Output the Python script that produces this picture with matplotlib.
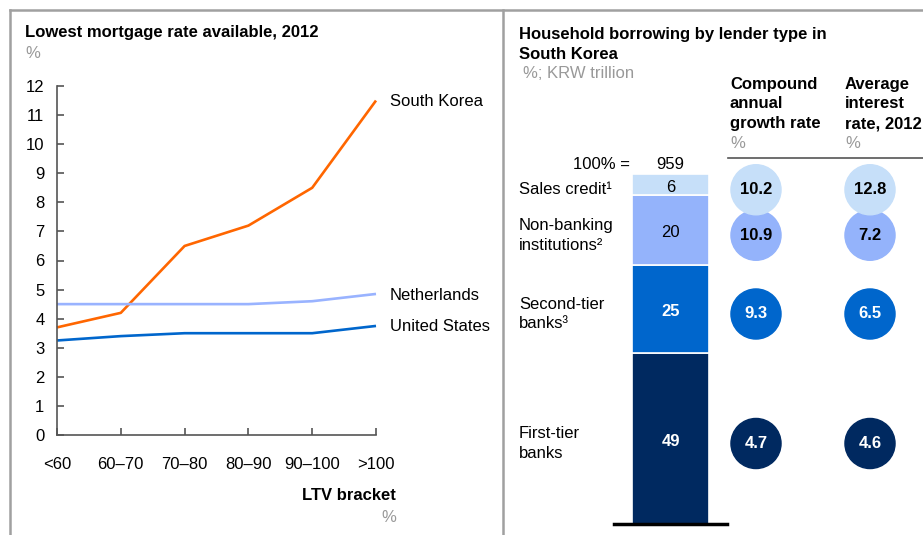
import numpy as np
import matplotlib.pyplot as plt

plt.rcParams['font.family'] = ['Liberation Sans', 'DejaVu Sans']

# left chart: lowest mortgage rate by LTV bracket
ltv_brackets = ['<60', '60–70', '70–80', '80–90', '90–100', '>100']
south_korea = [3.7, 4.2, 6.5, 7.2, 8.5, 11.5]
netherlands = [4.5, 4.5, 4.5, 4.5, 4.6, 4.85]
united_states = [3.25, 3.4, 3.5, 3.5, 3.5, 3.75]

# right chart: household borrowing, bottom to top
lenders = ['First-tier\nbanks', 'Second-tier\nbanks³', 'Non-banking\ninstitutions²', 'Sales credit¹']
shares = [49, 25, 20, 6]
cagr = [4.7, 9.3, 10.9, 10.2]
avg_rate = [4.6, 6.5, 7.2, 12.8]
total = 959

seg_colors = ['#002960', '#0066CC', '#94B3FB', '#C6DFF9']
txt_colors = ['white', 'white', 'black', 'black']
GRAY = '#999999'
FS = 12
LS = 1.4

W, H = 923, 535
fig = plt.figure(figsize=(W / 100, H / 100), dpi=100)


def fx(px):
    return px / W


def fy(py):
    return 1 - py / H


# overlay in pixel coords for frames and free text
bg = fig.add_axes([0, 0, 1, 1])
bg.set_xlim(0, W)
bg.set_ylim(H, 0)
bg.axis('off')
bg.plot([10, W], [10, 10], color='#A0A0A0', lw=1.8)
bg.plot([10, 10], [10, H], color='#A0A0A0', lw=1.8)
bg.plot([503, 503], [10, H], color='#A0A0A0', lw=1.8)

# ---- left panel ----
bg.text(25, 33, 'Lowest mortgage rate available, 2012', fontsize=FS, fontweight='bold', va='center')
bg.text(25, 53, '%', fontsize=FS, color=GRAY, va='center')

ax1 = fig.add_axes([fx(57), fy(435), fx(376) - fx(57), fy(86) - fy(435)])
x = np.arange(len(ltv_brackets))
ax1.plot(x, south_korea, color='#FF6600', lw=1.9, clip_on=False, solid_capstyle='butt')
ax1.plot(x, netherlands, color='#99B3FF', lw=1.9, clip_on=False, solid_capstyle='butt')
ax1.plot(x, united_states, color='#0066CC', lw=1.9, clip_on=False, solid_capstyle='butt')
ax1.set_xlim(0, 5)
ax1.set_ylim(0, 12)
ax1.set_yticks(range(13))
ax1.set_xticks(x)
ax1.set_xticklabels(ltv_brackets)
for s in ['top', 'right']:
    ax1.spines[s].set_visible(False)
for s in ['left', 'bottom']:
    ax1.spines[s].set_color('#555555')
    ax1.spines[s].set_linewidth(1.2)
ax1.tick_params(axis='both', direction='in', length=5, width=1.2, color='#555555',
                labelsize=FS)
ax1.tick_params(axis='x', pad=15.5)
ax1.tick_params(axis='y', pad=9)
ax1.patch.set_alpha(0)

for name, series, dy in [('South Korea', south_korea, -0.05),
                         ('Netherlands', netherlands, -0.07),
                         ('United States', united_states, -0.03)]:
    ax1.annotate(name, (5, series[-1] + dy), xytext=(10, 0), textcoords='offset points',
                 fontsize=FS, va='center', annotation_clip=False)

bg.text(396, 496, 'LTV bracket', fontsize=FS, fontweight='bold', ha='right', va='center')
bg.text(396, 517, '%', fontsize=FS, color=GRAY, ha='right', va='center')

# ---- right panel ----
bg.text(519, 44.5, 'Household borrowing by lender type in\nSouth Korea', fontsize=FS,
        fontweight='bold', va='center', linespacing=LS)
bg.text(523, 74, '%; KRW trillion', fontsize=FS, color=GRAY, va='center')
bg.text(730, 104, 'Compound\nannual\ngrowth rate', fontsize=FS, fontweight='bold',
        va='center', linespacing=LS)
bg.text(845, 104, 'Average\ninterest\nrate, 2012', fontsize=FS, fontweight='bold',
        va='center', linespacing=LS)
bg.text(730, 143, '%', fontsize=FS, color=GRAY, va='center')
bg.text(845, 143, '%', fontsize=FS, color=GRAY, va='center')
bg.plot([728, W], [158, 158], color='#555555', lw=1.2)

ax2 = fig.add_axes([fx(503), fy(524), 1 - fx(503), fy(174) - fy(524)])
ax2.set_xlim(503, W)
ax2.set_ylim(0, 100)
ax2.axis('off')
bar_x, bar_w = 670.5, 77
bottoms = np.concatenate([[0], np.cumsum(shares)[:-1]])
ax2.bar(bar_x, shares, bottom=bottoms, width=bar_w, color=seg_colors,
        edgecolor='white', linewidth=1.2)
ax2.plot([614, 727], [0, 0], color='black', lw=2.5, clip_on=False)

mids = bottoms + np.array(shares) / 2
circ_y = mids - 1.5
for i in range(len(shares)):
    bold = 'bold' if i < 2 else 'normal'
    ax2.text(bar_x, mids[i] - 0.8, str(shares[i]), ha='center', va='center', fontsize=FS,
             color=txt_colors[i], fontweight=bold)
    ax2.text(519, circ_y[i], lenders[i], ha='left', va='center', fontsize=FS, linespacing=LS)

ax2.scatter([756] * 4, circ_y, s=1300, c=seg_colors, clip_on=False, zorder=3)
ax2.scatter([870] * 4, circ_y, s=1300, c=seg_colors, clip_on=False, zorder=3)
for i in range(len(shares)):
    ax2.text(756, circ_y[i], f'{cagr[i]:.1f}', ha='center', va='center', fontsize=FS,
             fontweight='bold', color=txt_colors[i], zorder=4)
    ax2.text(870, circ_y[i], f'{avg_rate[i]:.1f}', ha='center', va='center', fontsize=FS,
             fontweight='bold', color=txt_colors[i], zorder=4)

ax2.text(630, 100.5, '100% =', ha='right', va='bottom', fontsize=FS)
ax2.text(bar_x, 100.5, str(total), ha='center', va='bottom', fontsize=FS)

fig.savefig('out.png', dpi=100)
